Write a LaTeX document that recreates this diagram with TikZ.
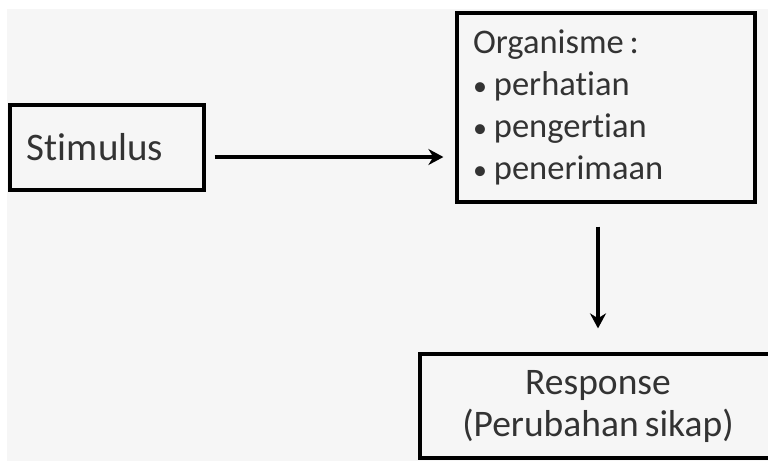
\documentclass[tikz,border=0pt]{standalone}
\usepackage{fontspec}
\setmainfont{Carlito}[Ligatures={NoCommon}]
\usetikzlibrary{arrows.meta}

\definecolor{slidebg}{HTML}{F6F6F6}
\definecolor{inktext}{HTML}{333333}
\newcommand{\smallbullet}{{\fontsize{28}{0}\selectfont\textbullet}\hspace{7pt}}

\begin{document}
\begin{tikzpicture}[x=1pt, y=-1pt,
  box/.style={draw=black, line width=3.2pt, fill=slidebg, inner sep=0pt, text=inktext},
  flow/.style={black, line width=3.4pt, -{Stealth[length=15pt,width=16pt]}}]
\useasboundingbox (0,0) rectangle (768,461);
\clip (0,0) rectangle (768,461);
\fill[white] (0,0) rectangle (768,461);
\fill[slidebg] (7,9) rectangle (768,461);
% the three boxes
\node[box, minimum height=85pt, text width=160pt, inner xsep=17pt, align=left,
  font=\fontsize{39}{42}\selectfont] (stim) at (107,147.5) {Stimulus};
\node[box, minimum height=189pt, text width=266pt, inner xsep=16pt, align=left,
  font=\fontsize{34.5}{42}\selectfont] (org) at (606,107.5)
  {Organisme\,:\\ \smallbullet perhatian\\ \smallbullet pengertian\\ \smallbullet penerimaan};
\node[box, minimum width=356pt, minimum height=104pt, align=center,
  font=\fontsize{37.5}{42}\selectfont] (resp) at (598,406) {Response\\ (Perubahan\,sikap)};
% arrows
\draw[flow, shorten <=9pt, shorten >=12pt] ([yshift=-9.5pt]stim.east) -- ([yshift=-9.5pt]stim.east -| org.west);
\draw[flow, shorten <=23pt, shorten >=24pt] (resp.north |- org.south) -- (resp.north);
\end{tikzpicture}
\end{document}
